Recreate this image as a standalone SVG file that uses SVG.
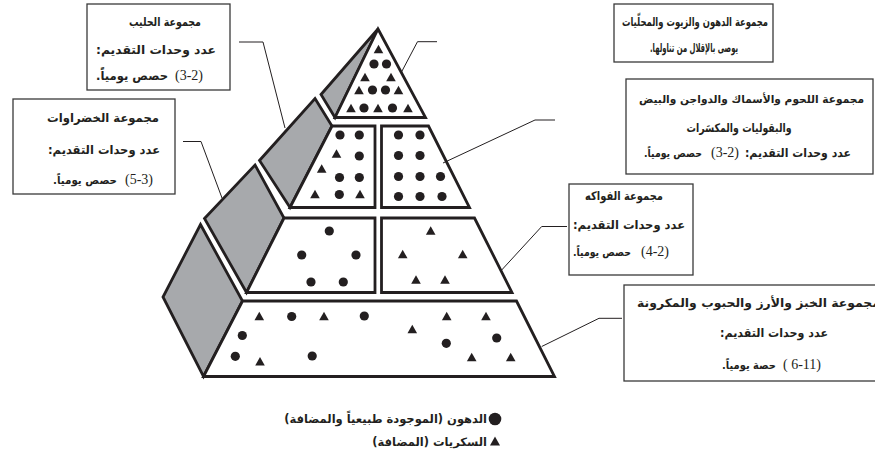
<svg xmlns="http://www.w3.org/2000/svg" width="875" height="457" viewBox="0 0 875 457">
<style>
.pyr{fill:#fff;stroke:#231f20;stroke-width:2.8;stroke-linejoin:miter}
.grey{fill:#a7a9ac;stroke:#231f20;stroke-width:2.8;stroke-linejoin:miter}
.box{fill:#fff;stroke:#3a3a3a;stroke-width:1.3}
.con{fill:none;stroke:#231f20;stroke-width:1}
.t{font-family:"DejaVu Sans",sans-serif;font-weight:bold;font-size:12px;fill:#231f20;direction:rtl;text-anchor:middle}
.s{font-size:11px}
.n{font-family:"Liberation Serif",serif;font-size:14px;fill:#231f20;text-anchor:start}
</style>
<defs>
<circle id="d" r="4.6" fill="#231f20"/>
<path id="tr" d="M0,-4.8 L4.8,3.8 L-4.8,3.8Z" fill="#231f20"/>
</defs>
<rect width="875" height="457" fill="#fff"/>

<g id="pyramid">
  <g id="fats-level">
    <path class="grey" d="M378,29 L321,94.5 L335,117.5 Z"/>
    <path class="pyr" d="M378,29 L425.5,117.5 L335,117.5 Z"/>
    <use href="#tr" x="378.5" y="49.5"/>
    <use href="#d" x="374" y="64"/><use href="#d" x="386.5" y="64"/>
    <use href="#tr" x="365" y="77.5"/><use href="#tr" x="391" y="77.5"/>
    <use href="#tr" x="359" y="90.5"/><use href="#d" x="372.5" y="90"/><use href="#d" x="385.5" y="90"/><use href="#tr" x="398.5" y="90.5"/>
    <use href="#tr" x="351" y="108.5"/><use href="#d" x="364" y="108"/><use href="#tr" x="378" y="108.5"/><use href="#d" x="392.5" y="108"/><use href="#tr" x="408" y="108.5"/>
  </g>
  <g id="milk-level">
    <path class="grey" d="M315,98.5 L332,126 L290,207.5 L259.5,160.5 Z"/>
    <path class="pyr" d="M332,126 L375,126 L375,207.5 L290,207.5 Z"/>
    <use href="#d" x="340" y="135"/><use href="#d" x="359.3" y="135"/>
    <use href="#tr" x="336.5" y="154"/><use href="#d" x="359.3" y="156"/>
    <use href="#tr" x="321.7" y="169"/>
    <use href="#d" x="339.5" y="177.5"/><use href="#d" x="359.3" y="177.5"/>
    <use href="#tr" x="315" y="194.5"/><use href="#d" x="339.3" y="194.5"/><use href="#tr" x="360" y="194.5"/>
  </g>
  <g id="meat-level">
    <path class="pyr" d="M381.5,126 L428.5,126 L469.5,207.5 L381.5,207.5 Z"/>
    <use href="#d" x="398.5" y="135"/><use href="#d" x="420" y="135"/>
    <use href="#d" x="398.5" y="155.5"/><use href="#d" x="420" y="155.5"/>
    <use href="#d" x="398.5" y="176.5"/><use href="#d" x="420" y="176.5"/><use href="#d" x="440.5" y="176.5"/>
    <use href="#d" x="398.5" y="196.5"/><use href="#d" x="420" y="196.5"/><use href="#d" x="442" y="196.5"/>
  </g>
  <g id="vegetables-level">
    <path class="grey" d="M255,165 L284,218 L246.5,292.5 L204.5,218.5 Z"/>
    <path class="pyr" d="M284,218 L375,218 L375,292.5 L246.5,292.5 Z"/>
    <use href="#d" x="329.3" y="231"/>
    <use href="#d" x="301.7" y="255"/><use href="#d" x="356" y="255"/>
    <use href="#d" x="311" y="282"/><use href="#d" x="343.3" y="282"/>
  </g>
  <g id="fruit-level">
    <path class="pyr" d="M381.5,218 L474.5,218 L512,292.5 L381.5,292.5 Z"/>
    <use href="#tr" x="430.7" y="231"/>
    <use href="#tr" x="402.7" y="254.5"/><use href="#tr" x="462.7" y="254.5"/>
    <use href="#tr" x="416" y="280"/><use href="#tr" x="445" y="280"/>
  </g>
  <g id="bread-level">
    <path class="grey" d="M200.5,224.5 L242.5,301 L203.5,376.5 L163,297 Z"/>
    <path class="pyr" d="M242.5,301 L516.5,301 L554.5,376.5 L203.5,376.5 Z"/>
    <use href="#tr" x="259.3" y="316.5"/><use href="#d" x="291.7" y="316.5"/><use href="#tr" x="324" y="316.5"/><use href="#d" x="364.3" y="316"/>
    <use href="#tr" x="412.3" y="329.5"/><use href="#tr" x="446.7" y="316.5"/><use href="#tr" x="486" y="316.5"/>
    <use href="#d" x="242.3" y="335.5"/><use href="#d" x="446.3" y="343.3"/><use href="#d" x="496.7" y="338"/>
    <use href="#d" x="235.3" y="356.3"/><use href="#tr" x="260" y="361.7"/><use href="#d" x="312.2" y="356"/>
    <use href="#tr" x="471.7" y="357.5"/><use href="#tr" x="510.7" y="357.5"/>
  </g>
</g>

<g id="connectors">
  <path class="con" d="M239,42 H263 L285,128"/>
  <path class="con" d="M183,141.5 H201 L222,198"/>
  <path class="con" d="M437,41.7 H417.5 L401.5,72"/>
  <path class="con" d="M555,120 H535 L443,163"/>
  <path class="con" d="M567,226.5 H541.7 L501.7,270"/>
  <path class="con" d="M622,318.3 H599 L541.7,346.5"/>
</g>

<g id="label-milk">
  <rect class="box" x="87" y="4" width="143" height="86"/>
  <text class="t" x="165" y="26" textLength="72" lengthAdjust="spacingAndGlyphs">مجموعة الحليب</text>
  <text class="t" x="156" y="54" textLength="120" lengthAdjust="spacingAndGlyphs">عدد وحدات التقديم:</text>
  <text class="t" x="132" y="80" textLength="72" lengthAdjust="spacingAndGlyphs">حصص يومياً.</text>
  <text class="n" x="175" y="80">(3-2)</text>
</g>
<g id="label-vegetables">
  <rect class="box" x="13" y="99" width="162" height="95"/>
  <text class="t" x="103" y="122" textLength="112" lengthAdjust="spacingAndGlyphs">مجموعة الخضراوات</text>
  <text class="t" x="104" y="154" textLength="112" lengthAdjust="spacingAndGlyphs">عدد وحدات التقديم:</text>
  <text class="t s" x="85" y="184" textLength="64" lengthAdjust="spacingAndGlyphs">حصص يومياً.</text>
  <text class="n" x="125" y="184">(5-3)</text>
</g>
<g id="label-fats">
  <rect class="box" x="614" y="4" width="159" height="58"/>
  <text class="t" x="695" y="26" textLength="146" lengthAdjust="spacingAndGlyphs">مجموعة الدهون والزيوت والمحلّيات</text>
  <text class="t" x="694" y="52" textLength="88" lengthAdjust="spacingAndGlyphs">يوصى بالإقلال من تناولها.</text>
</g>
<g id="label-meat">
  <rect class="box" x="626" y="79" width="247" height="95"/>
  <text class="t s" x="751.5" y="103" textLength="225" lengthAdjust="spacingAndGlyphs">مجموعة اللحوم والأسماك والدواجن والبيض</text>
  <text class="t" x="739" y="132" textLength="105" lengthAdjust="spacingAndGlyphs">والبقوليات والمكسَرات</text>
  <text class="t" x="798" y="157" textLength="106" lengthAdjust="spacingAndGlyphs">عدد وحدات التقديم:</text>
  <text class="n" x="711" y="157">(3-2)</text>
  <text class="t s" x="673" y="157" textLength="58" lengthAdjust="spacingAndGlyphs">حصص يومياً.</text>
</g>
<g id="label-fruit">
  <rect class="box" x="569" y="184" width="124" height="91"/>
  <text class="t" x="624" y="200" textLength="78" lengthAdjust="spacingAndGlyphs">مجموعة الفواكه</text>
  <text class="t" x="629" y="229" textLength="112" lengthAdjust="spacingAndGlyphs">عدد وحدات التقديم:</text>
  <text class="t s" x="602" y="256" textLength="58" lengthAdjust="spacingAndGlyphs">حصص يومياً.</text>
  <text class="n" x="641" y="256">(4-2)</text>
</g>
<g id="label-bread">
  <rect class="box" x="624" y="285" width="300" height="96"/>
  <text class="t" x="758.5" y="307" textLength="243" lengthAdjust="spacingAndGlyphs">مجموعة الخبز والأرز والحبوب والمكرونة</text>
  <text class="t" x="774" y="337" textLength="108" lengthAdjust="spacingAndGlyphs">عدد وحدات التقديم:</text>
  <text class="t s" x="749" y="369" textLength="54" lengthAdjust="spacingAndGlyphs">حصة يومياً.</text>
  <text class="n" x="783" y="369" xml:space="preserve">( 6-11)</text>
</g>

<g id="legend">
  <circle cx="495" cy="419" r="6.3" fill="#231f20"/>
  <text class="t" x="487" y="423" style="text-anchor:start;font-size:11.5px">الدهون (الموجودة طبيعياً والمضافة)</text>
  <path d="M495,436.5 L500,445.5 L490,445.5Z" fill="#231f20"/>
  <text class="t" x="487" y="446" style="text-anchor:start;font-size:11.5px">السكريات (المضافة)</text>
</g>
</svg>
